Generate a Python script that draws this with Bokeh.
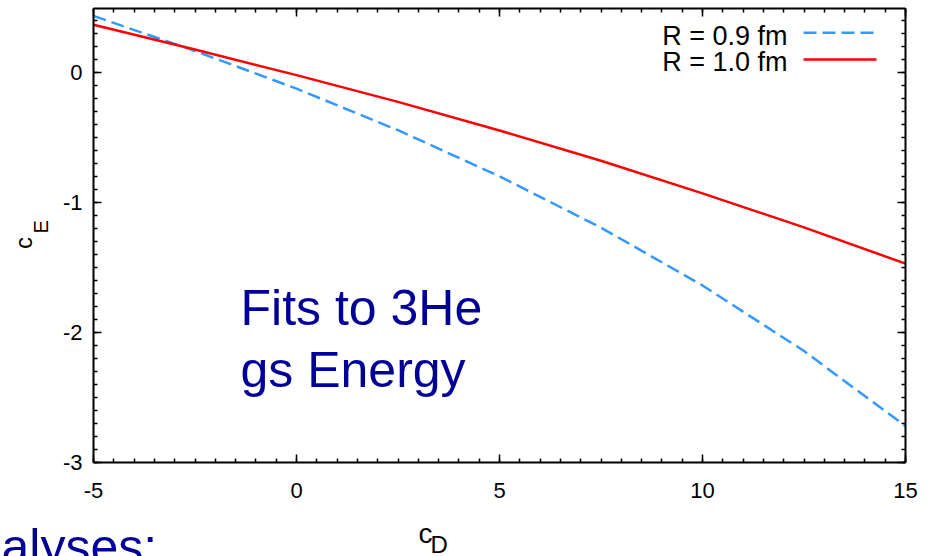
import math
from bokeh.plotting import figure
from bokeh.models import Range1d, LinearAxis, SingleIntervalTicker, Label
from bokeh.embed import file_html
from bokeh.resources import INLINE

# ---- data ----
cd = [-5.0, -2.5, 0.0, 2.5, 5.0, 7.5, 10.0, 12.5, 15.0]
ce_r10 = [0.370, 0.179, -0.018, -0.224, -0.444, -0.677, -0.928, -1.190, -1.469]
ce_r09 = [0.438, 0.168, -0.122, -0.442, -0.797, -1.192, -1.637, -2.142, -2.720]
series_labels = ["R = 0.9 fm", "R = 1.0 fm"]
x_tick_values = [-5, 0, 5, 10, 15]
x_tick_labels = ["-5", "0", "5", "10", "15"]
y_tick_values = [-3, -2, -1, 0]
y_tick_labels = ["-3", "-2", "-1", "0"]
X_MIN, X_MAX = -5, 15
Y_MIN, Y_MAX = -3, 0.495

# ---- layout: canvas = whole window, plot box at these page pixels ----
FIG_W, FIG_H = 936, 556
FL, FR, FT, FB = 93, 905, 8, 462

def dx(px):
    return X_MIN + (px - FL) / (FR - FL) * (X_MAX - X_MIN)

def dy(py):
    return Y_MAX - (py - FT) / (FB - FT) * (Y_MAX - Y_MIN)

FONT = "Liberation Sans"
BLUE = "#3399ff"
RED = "#ff0000"
NAVY = "#000099"
SHIFT = 0.38  # baseline correction (em)

p = figure(width=FIG_W, height=FIG_H, output_backend="svg", toolbar_location=None,
           title=None, x_axis_location=None, y_axis_location=None,
           x_range=Range1d(dx(0), dx(FIG_W)), y_range=Range1d(dy(FIG_H), dy(0)),
           min_border=0, min_border_left=0, min_border_right=0,
           min_border_top=0, min_border_bottom=0,
           background_fill_color="white", border_fill_color="white")
p.grid.visible = False
p.outline_line_color = None

def make_axis(loc, ticker, labels, standoff, bounds):
    ax = LinearAxis(ticker=ticker, fixed_location=loc, bounds=bounds)
    ax.axis_line_width = 2
    ax.axis_line_color = "black"
    ax.major_tick_in = 8
    ax.major_tick_out = 0
    ax.minor_tick_in = 4
    ax.minor_tick_out = 0
    ax.major_tick_line_width = 1.5
    ax.minor_tick_line_width = 1.5
    ax.major_tick_line_color = "black"
    ax.minor_tick_line_color = "black"
    ax.major_label_text_font = FONT
    ax.major_label_text_color = "black"
    ax.major_label_text_font_size = "22px"
    ax.major_label_standoff = standoff
    ax.major_label_overrides = labels
    ax.axis_label = None
    return ax

xt = lambda: SingleIntervalTicker(interval=5, num_minor_ticks=10)
yt = lambda: SingleIntervalTicker(interval=1, num_minor_ticks=10)
bottom_ax = make_axis(Y_MIN, xt(), dict(zip(x_tick_values, x_tick_labels)), 20, (X_MIN, X_MAX))
left_ax = make_axis(X_MIN, yt(), dict(zip(y_tick_values, y_tick_labels)), 11, (Y_MIN, Y_MAX))
top_ax = make_axis(Y_MAX, xt(), {v: "" for v in x_tick_values}, 0, (X_MIN, X_MAX))
right_ax = make_axis(X_MAX, yt(), {v: "" for v in y_tick_values}, 0, (Y_MIN, Y_MAX))
p.add_layout(bottom_ax, "below")
p.add_layout(left_ax, "left")
p.add_layout(top_ax, "above")
p.add_layout(right_ax, "right")

# curves
p.line(cd, ce_r09, line_color=BLUE, line_width=2.5, line_dash="13 6")
p.line(cd, ce_r10, line_color=RED, line_width=2.5)

def txt(px, py, s, size, color="black", angle=0.0, align="left"):
    k = SHIFT * size
    if angle:
        px -= k
    else:
        py -= k
    p.add_layout(Label(x=dx(px), y=dy(py), text=s, angle=angle, text_font=FONT,
                       text_font_size=f"{size}px", text_color=color,
                       text_baseline="alphabetic", text_align=align))

# legend keys (right of the labels, as in the reference)
p.line([dx(803), dx(876)], [dy(32.3), dy(32.3)], line_color=BLUE, line_width=2.5, line_dash="13 6")
p.line([dx(803), dx(876)], [dy(59), dy(59)], line_color=RED, line_width=2.5)
for lab, base in zip(series_labels, [45.7, 71.7]):
    txt(787, base, lab, 27, align="right")

# annotation text
txt(240, 326.5, "Fits to 3He", 50, NAVY)
txt(240, 388, "gs Energy", 50, NAVY)
txt(1, 565, "alyses:", 50, NAVY)

# axis titles c_D and c_E with subscripts
txt(418, 543.3, "c", 28)
txt(430, 552.7, "D", 24)
txt(32, 248.5, "c", 24, angle=math.pi / 2)
txt(48, 233, "E", 20, angle=math.pi / 2)

open("out.html", "w").write(file_html(p, INLINE))
